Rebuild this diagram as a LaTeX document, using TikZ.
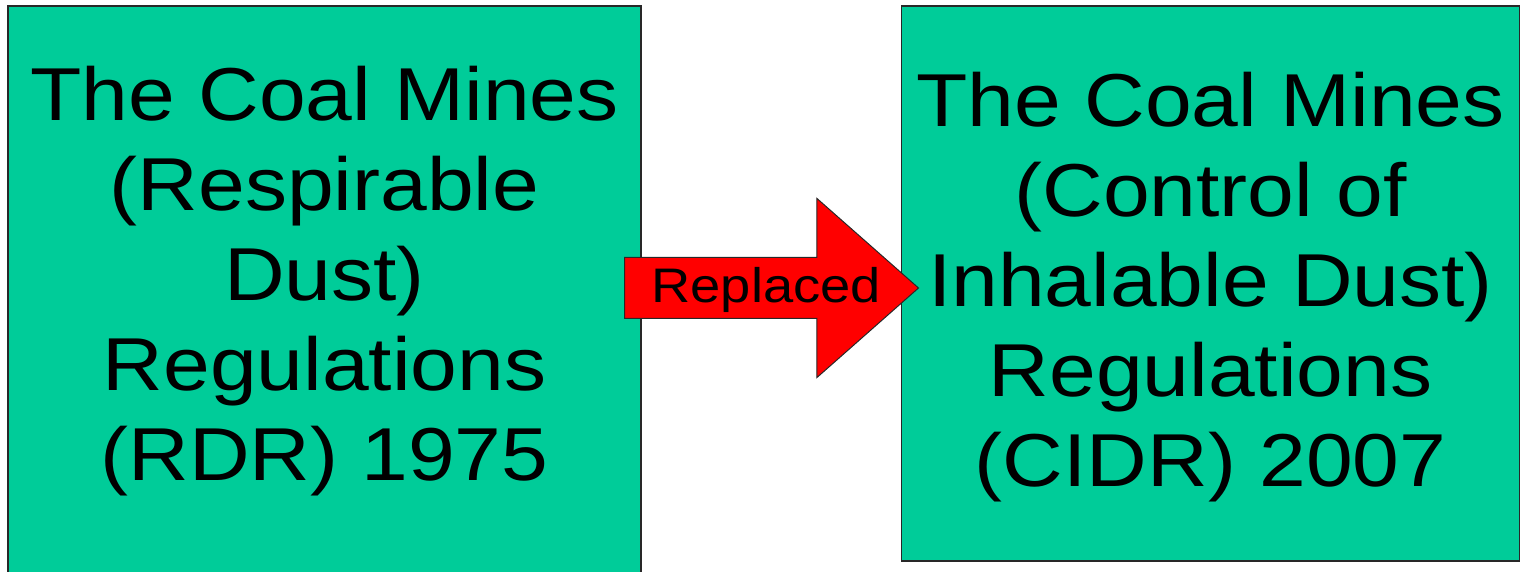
\documentclass[tikz,border=0pt]{standalone}
\usepackage{fontspec}
\setmainfont{Liberation Sans}
\newfontfamily\slidefont[FakeStretch=1.12]{Liberation Sans}
\usetikzlibrary{positioning,shapes.arrows}
\definecolor{mygreen}{RGB}{0,204,153}
\definecolor{myred}{RGB}{255,0,0}
\definecolor{myedge}{RGB}{40,40,40}

\begin{document}
\begin{tikzpicture}[regbox/.style={draw=myedge,line width=0.8pt,fill=mygreen,inner sep=0pt},
  regtext/.style={align=center,inner sep=0pt,anchor=base,
    font=\slidefont\fontsize{37.5}{45}\selectfont},
  replarrow/.style={single arrow,draw=myedge,line width=0.5pt,fill=myred,
    text height=17.5pt,text depth=4.5pt,inner xsep=0pt,inner ysep=4pt,
    single arrow head extend=29.5pt,single arrow tip angle=82.8,
    minimum height=147pt,anchor=tail},
  repltext/.style={inner sep=0pt,anchor=base,
    font=\slidefont\fontsize{24.25}{28}\selectfont}]

  \useasboundingbox (0,0) rectangle (760pt,286pt);

  % the two regulation boxes
  \node[regbox,minimum width=316.5pt,minimum height=293pt] (lbox) at (162.25pt,136.5pt) {};
  \node[regbox,minimum width=309pt,minimum height=277.5pt,
    right=129.5pt of lbox.north east,anchor=north west] (rbox) {};

  % arrow between them
  \node[replarrow] (repl) at (312pt,142pt) {};
  \node[repltext] (repllabel) at ([xshift=6pt]repl.center |- 0,134.5pt) {Replaced};

  % box texts
  \node[regtext] (ltext) at (lbox.center |- 0,45.5pt)
    {The Coal Mines\\(Respirable\\Dust)\\Regulations\\(RDR) 1975};
  \node[regtext] (rtext) at (rbox.center |- 0,42.5pt)
    {The Coal Mines\\(Control of\\Inhalable Dust)\\Regulations\\(CIDR) 2007};

\end{tikzpicture}
\end{document}
